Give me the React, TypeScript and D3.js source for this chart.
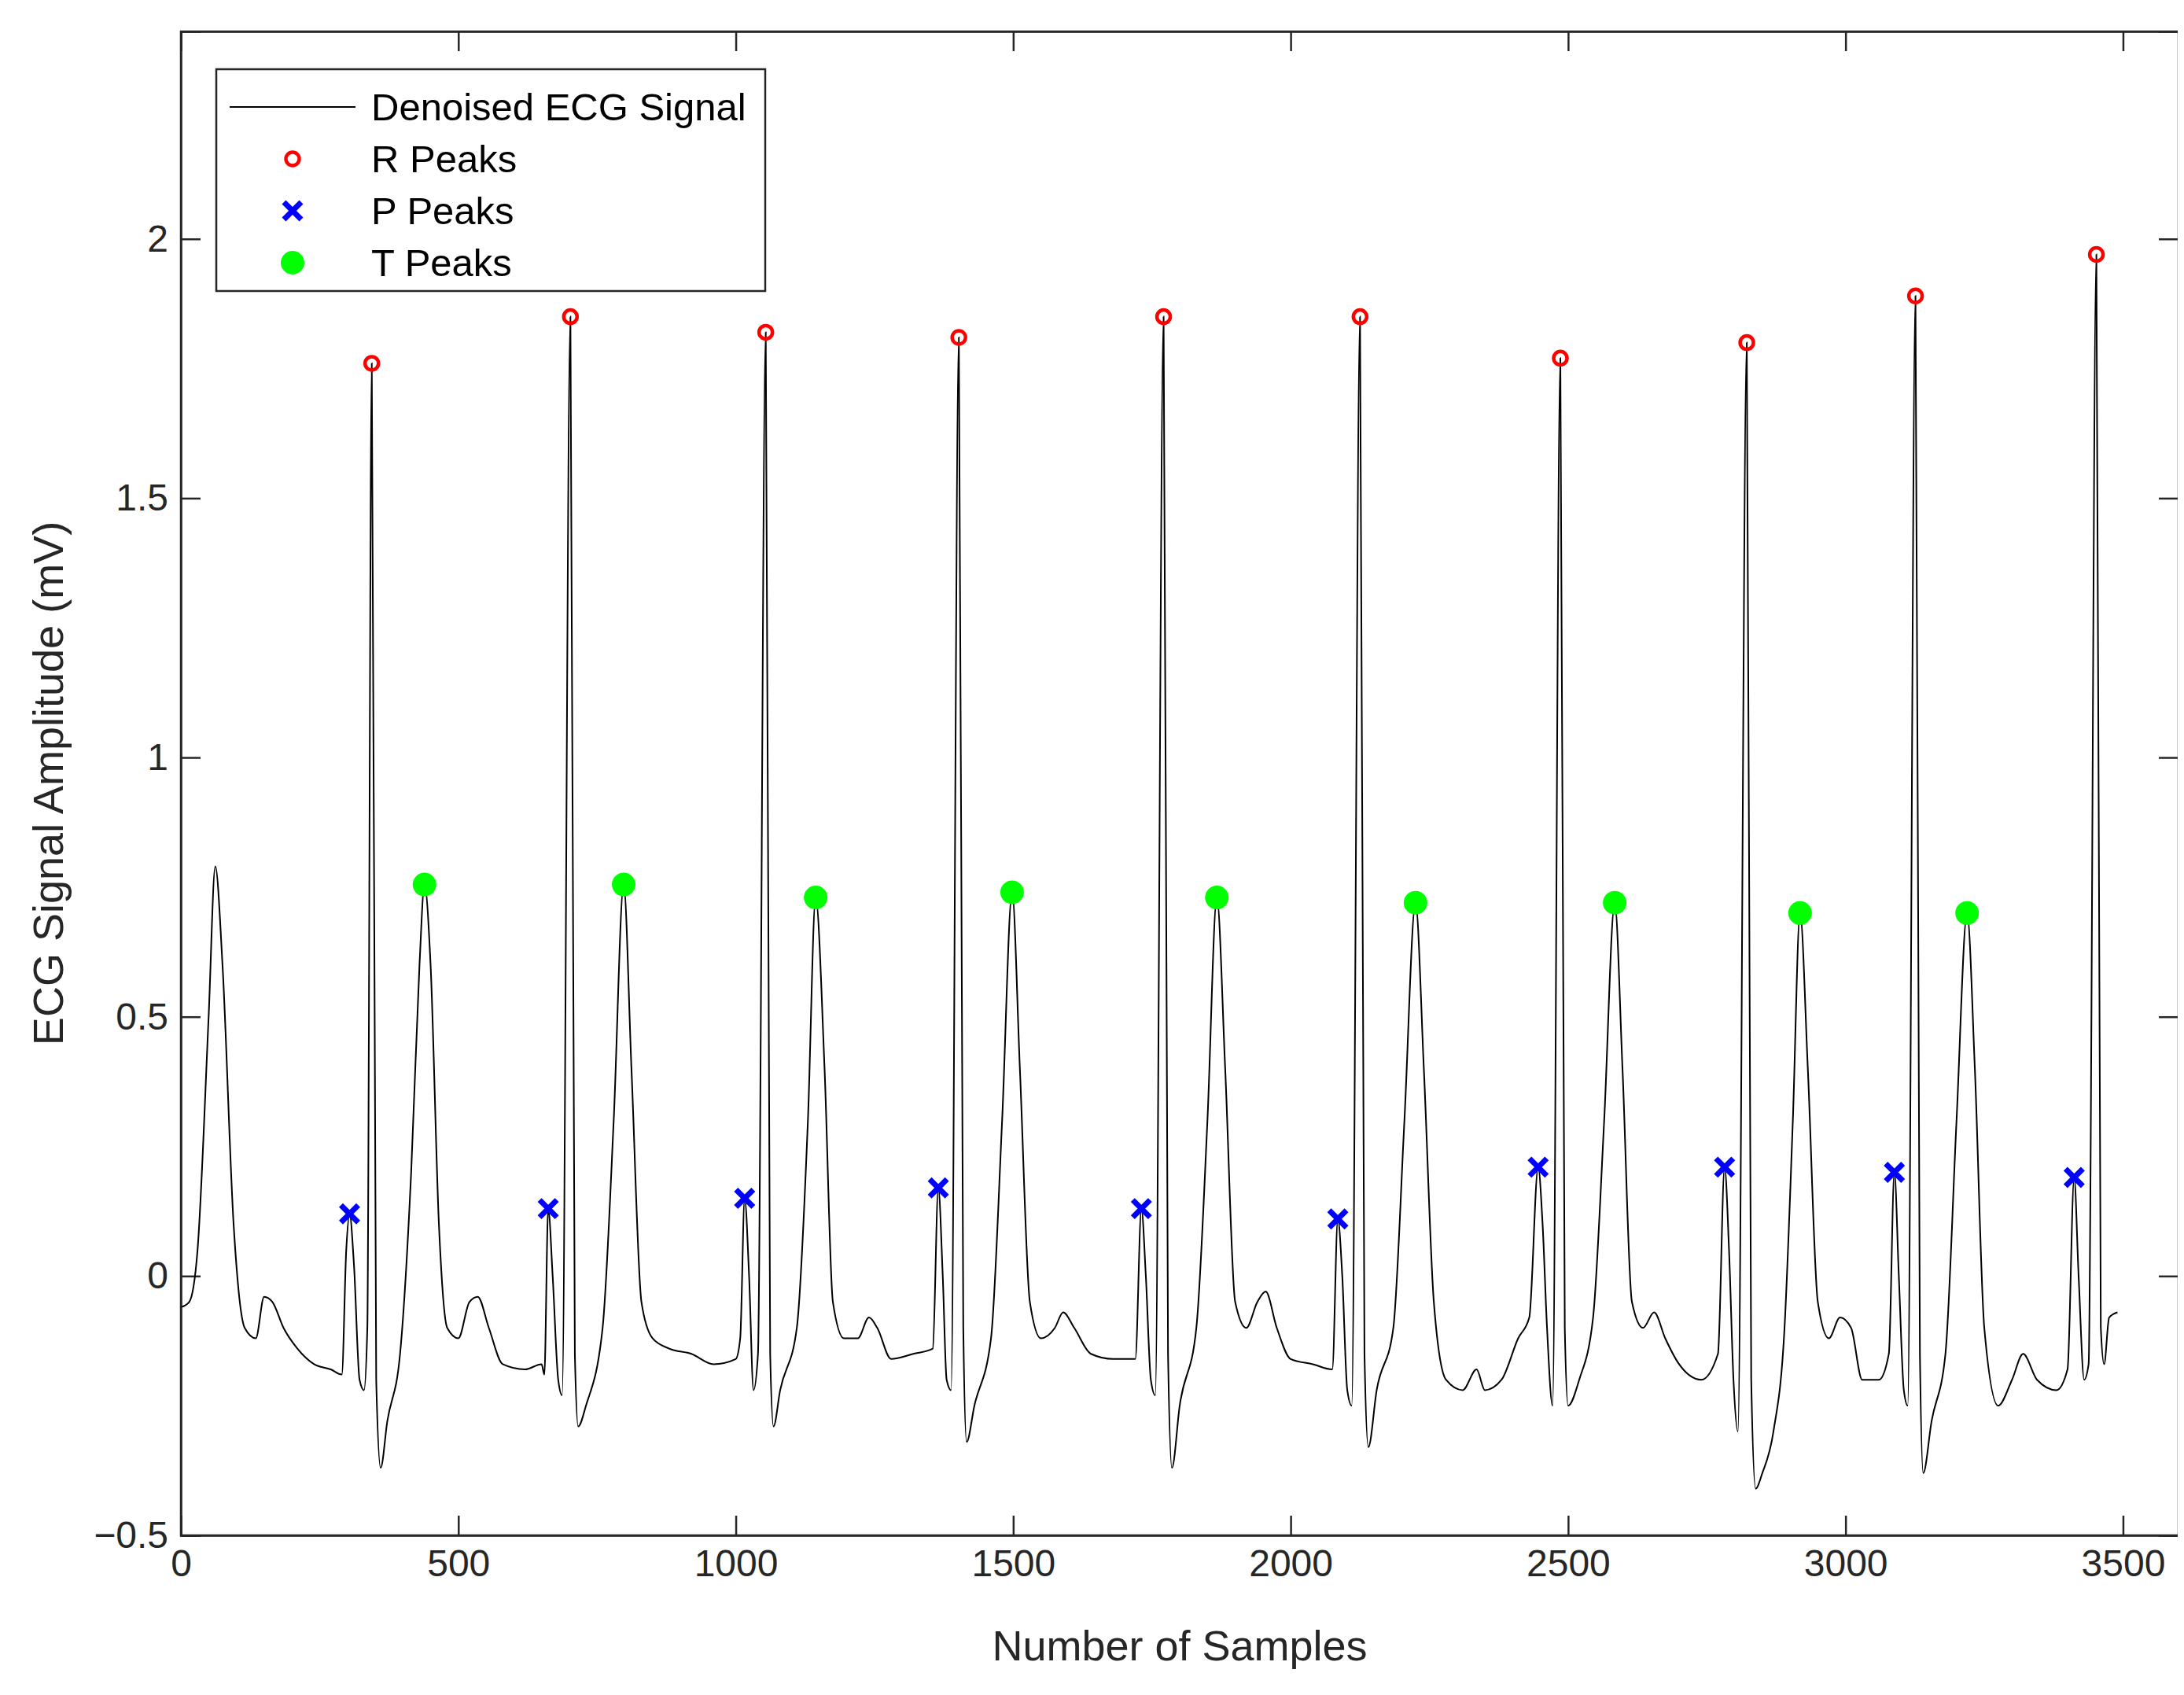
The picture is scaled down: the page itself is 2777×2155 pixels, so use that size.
import { useEffect, useRef } from 'react';
import * as d3 from 'd3';

// signal knots: [sample, mV]
const SIGNAL: [number, number][] = [
  [0, -0.06], [15, -0.05], [30, 0.05], [50, 0.5], [62, 0.79], [75, 0.6], [95, 0.1], [115, -0.1], [135, -0.12], [150, -0.04],
  [165, -0.05], [185, -0.1], [210, -0.14], [240, -0.17], [270, -0.18], [290, -0.19], [298, 0.05], [304, 0.12], [312, 0.02],
  [322, -0.2], [330, -0.22], [336, -0.1], [344, 1.76], [352, -0.2], [360, -0.37], [372, -0.28], [395, -0.15], [415, 0.2],
  [430, 0.6], [439, 0.755], [450, 0.6], [465, 0.1], [480, -0.1], [500, -0.12], [520, -0.05], [535, -0.04], [555, -0.1],
  [580, -0.17], [620, -0.18], [650, -0.17], [655, -0.19], [662, 0.13], [670, 0.0], [680, -0.2], [687, -0.23], [702, 1.85],
  [710, -0.15], [716, -0.29], [730, -0.25], [760, -0.1], [780, 0.3], [798, 0.755], [812, 0.4], [830, -0.05], [850, -0.12],
  [880, -0.14], [920, -0.15], [960, -0.17], [1000, -0.16], [1008, -0.12], [1016, 0.15], [1024, 0.0], [1032, -0.22],
  [1040, -0.15], [1054, 1.82], [1062, -0.15], [1068, -0.29], [1080, -0.22], [1110, -0.1], [1130, 0.3], [1144, 0.73],
  [1160, 0.4], [1175, -0.05], [1195, -0.12], [1220, -0.12], [1240, -0.08], [1255, -0.1], [1280, -0.16], [1320, -0.15],
  [1355, -0.14], [1365, 0.17], [1373, 0.0], [1380, -0.2], [1388, -0.22], [1402, 1.81], [1410, -0.1], [1416, -0.32],
  [1430, -0.25], [1460, -0.12], [1480, 0.3], [1498, 0.74], [1512, 0.4], [1530, -0.05], [1550, -0.12], [1575, -0.1],
  [1590, -0.07], [1610, -0.1], [1640, -0.15], [1680, -0.16], [1720, -0.16], [1731, 0.13], [1739, 0.0], [1748, -0.2],
  [1756, -0.23], [1771, 1.85], [1779, -0.15], [1786, -0.37], [1800, -0.25], [1830, -0.1], [1850, 0.3], [1867, 0.73],
  [1882, 0.4], [1900, -0.05], [1920, -0.1], [1940, -0.05], [1955, -0.03], [1975, -0.1], [2000, -0.16], [2040, -0.17],
  [2075, -0.18], [2085, 0.11], [2093, 0.0], [2102, -0.22], [2110, -0.25], [2125, 1.85], [2133, -0.15], [2140, -0.33],
  [2155, -0.22], [2185, -0.1], [2205, 0.3], [2225, 0.72], [2240, 0.4], [2258, -0.05], [2280, -0.2], [2310, -0.22],
  [2335, -0.18], [2350, -0.22], [2380, -0.2], [2410, -0.12], [2430, -0.08], [2446, 0.21], [2454, 0.1], [2462, -0.1],
  [2472, -0.25], [2486, 1.77], [2494, -0.1], [2500, -0.25], [2520, -0.2], [2545, -0.08], [2565, 0.3], [2584, 0.72],
  [2598, 0.4], [2615, -0.05], [2635, -0.1], [2655, -0.07], [2675, -0.12], [2700, -0.17], [2740, -0.2], [2770, -0.15],
  [2782, 0.21], [2790, 0.05], [2798, -0.2], [2806, -0.3], [2822, 1.8], [2830, -0.2], [2838, -0.41], [2850, -0.38],
  [2870, -0.3], [2890, -0.1], [2905, 0.3], [2918, 0.7], [2932, 0.4], [2950, -0.05], [2970, -0.12], [2990, -0.08],
  [3010, -0.1], [3030, -0.2], [3060, -0.2], [3078, -0.15], [3088, 0.2], [3096, 0.0], [3105, -0.22], [3112, -0.25],
  [3126, 1.89], [3134, -0.15], [3140, -0.38], [3155, -0.28], [3180, -0.15], [3200, 0.3], [3219, 0.7], [3233, 0.4],
  [3250, -0.1], [3275, -0.25], [3300, -0.2], [3320, -0.15], [3345, -0.2], [3380, -0.22], [3400, -0.18], [3412, 0.19],
  [3420, 0.0], [3430, -0.2], [3438, -0.17], [3452, 1.97], [3460, -0.1], [3466, -0.17], [3475, -0.08], [3490, -0.07],
];

const R_PEAKS: [number, number][] = [
  [344, 1.76], [702, 1.85], [1054, 1.82], [1402, 1.81], [1771, 1.85], [2125, 1.85], [2486, 1.77], [2822, 1.8], [3126, 1.89], [3452, 1.97],
];
const P_PEAKS: [number, number][] = [
  [304, 0.12], [662, 0.13], [1016, 0.15], [1365, 0.17], [1731, 0.13], [2085, 0.11], [2446, 0.21], [2782, 0.21], [3088, 0.2], [3412, 0.19],
];
const T_PEAKS: [number, number][] = [
  [439, 0.755], [798, 0.755], [1144, 0.73], [1498, 0.74], [1867, 0.73], [2225, 0.72], [2584, 0.72], [2918, 0.7], [3219, 0.7],
];

const X_TICKS = [0, 500, 1000, 1500, 2000, 2500, 3000, 3500];
const Y_TICKS = [-0.5, 0, 0.5, 1, 1.5, 2];
const LEGEND = ['Denoised ECG Signal', 'R Peaks', 'P Peaks', 'T Peaks'];

const FONT = '"Liberation Sans", Arial, sans-serif';

export default function App() {
  const svgRef = useRef<SVGSVGElement | null>(null);

  useEffect(() => {
    const svg = d3.select(svgRef.current!);
    svg.selectAll('*').remove();
    const margin = { top: 32, right: 15, bottom: 211, left: 222 };
    const width = 2777;
    const height = 2155;
    const iw = width - margin.left - margin.right;
    const ih = height - margin.top - margin.bottom;

    const x = d3.scaleLinear().domain([0, 3600]).range([0, iw]);
    const y = d3.scaleLinear().domain([-0.5, 2.4]).range([ih, 0]);
    const g = svg.append('g').attr('transform', `translate(${margin.left},${margin.top})`);

    const tickLen = 25;
    const axisColor = '#262626';
    // ticks on all four sides, pointing inward
    const xa = g.append('g').attr('transform', `translate(0,${ih})`).call(d3.axisBottom(x).tickValues(X_TICKS).tickSize(-tickLen).tickPadding(18).tickFormat((v) => `${v}`));
    const xt = g.append('g').call(d3.axisTop(x).tickValues(X_TICKS).tickSize(-tickLen).tickFormat(() => ''));
    const ya = g.append('g').call(d3.axisLeft(y).tickValues(Y_TICKS).tickSize(-tickLen).tickPadding(16).tickFormat((v) => (+v < 0 ? `\u2212${Math.abs(+v)}` : `${v}`)));
    const yr = g.append('g').attr('transform', `translate(${iw},0)`).call(d3.axisRight(y).tickValues(Y_TICKS).tickSize(-tickLen).tickFormat(() => ''));
    [xa, xt, ya, yr].forEach((a) => {
      a.selectAll('path,line').attr('stroke', axisColor).attr('stroke-width', 2.5);
      a.selectAll('text').attr('fill', axisColor).attr('font-size', 48).attr('font-family', FONT);
    });

    const line = d3.line<[number, number]>().x((d) => x(d[0])).y((d) => y(d[1])).curve(d3.curveMonotoneX);
    g.append('path').datum(SIGNAL).attr('d', line).attr('fill', 'none').attr('stroke', '#000').attr('stroke-width', 2);

    const drawR = (sel: d3.Selection<SVGGElement, unknown, null, undefined>, cx: number, cy: number) =>
      sel.append('circle').attr('cx', cx).attr('cy', cy).attr('r', 8.5).attr('fill', 'none').attr('stroke', '#ff0000').attr('stroke-width', 4.5);
    const drawP = (sel: d3.Selection<SVGGElement, unknown, null, undefined>, cx: number, cy: number) =>
      sel.append('path').attr('d', `M${cx - 11},${cy - 11}L${cx + 11},${cy + 11}M${cx - 11},${cy + 11}L${cx + 11},${cy - 11}`).attr('stroke', '#0000ff').attr('stroke-width', 7);
    const drawT = (sel: d3.Selection<SVGGElement, unknown, null, undefined>, cx: number, cy: number) =>
      sel.append('circle').attr('cx', cx).attr('cy', cy).attr('r', 15).attr('fill', '#00ff00');

    const marks = g.append('g');
    R_PEAKS.forEach((d) => drawR(marks, x(d[0]), y(d[1])));
    P_PEAKS.forEach((d) => drawP(marks, x(d[0]), y(d[1])));
    T_PEAKS.forEach((d) => drawT(marks, x(d[0]), y(d[1])));

    g.append('rect').attr('width', iw).attr('height', ih).attr('fill', 'none').attr('stroke', axisColor).attr('stroke-width', 2.5);

    // legend
    const lg = g.append('g').attr('transform', 'translate(45,48)');
    lg.append('rect').attr('width', 698).attr('height', 282).attr('fill', '#fff').attr('stroke', axisColor).attr('stroke-width', 2.5);
    LEGEND.forEach((label, i) => {
      const row = lg.append('g').attr('transform', `translate(0,${48 + i * 66})`);
      if (i === 0) row.append('line').attr('x1', 17).attr('x2', 177).attr('stroke', '#000').attr('stroke-width', 2);
      if (i === 1) drawR(row, 97, 0);
      if (i === 2) drawP(row, 97, 0);
      if (i === 3) drawT(row, 97, 0);
      row.append('text').attr('x', 197).attr('y', 17).attr('font-size', 49).attr('font-family', FONT).attr('fill', '#000').text(label);
    });

    svg.append('text').attr('x', margin.left + iw / 2).attr('y', 2103).attr('text-anchor', 'middle').attr('font-size', 54).attr('font-family', FONT).attr('fill', axisColor).text('Number of Samples');
    svg.append('text').attr('transform', `translate(72,${margin.top + ih / 2}) rotate(-90)`).attr('text-anchor', 'middle').attr('font-size', 54).attr('font-family', FONT).attr('fill', axisColor).text('ECG Signal Amplitude (mV)');
  }, []);

  return <svg ref={svgRef} width={2777} height={2155} style={{ display: 'block', background: '#fff' }} />;
}
